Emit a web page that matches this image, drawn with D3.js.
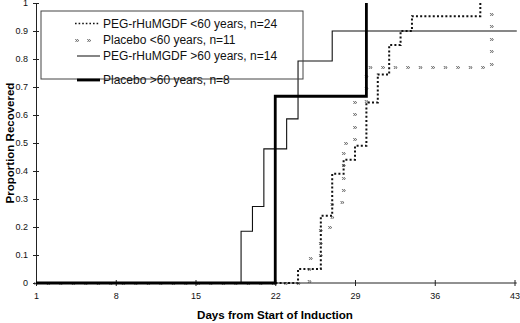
<!DOCTYPE html>
<html>
<head>
<meta charset="utf-8">
<script src="https://cdn.jsdelivr.net/npm/d3@7"></script>
<style>
  body { margin: 0; background: #fff; }
  svg { display: block; font-family: "Liberation Sans", Arial, sans-serif; }
  .axis path, .axis line { stroke: #222; }
  .axis text { font-size: 9px; fill: #111; }
  .glyphs { filter: grayscale(1); }
</style>
</head>
<body>
<div id="chart"></div>
<script>
// Tick values
const xTicks = [1, 8, 15, 22, 29, 36, 43]
const yTicks = [0, 0.1, 0.2, 0.3, 0.4, 0.5, 0.6, 0.7, 0.8, 0.9, 1]

// Step points: [day, proportion recovered]
const pegUnder60 = [[1, 0], [24, 0.05], [26, 0.24], [27, 0.39], [28, 0.44], [29, 0.49], [30, 0.645], [31, 0.745], [32, 0.85], [33, 0.9], [34, 0.953], [40, 1.0]]
const placeboUnder60 = [[1, 0], [25, 0.09], [26, 0.2], [27, 0.29], [28, 0.5], [29, 0.65], [30, 0.77], [41, 1.0]]
const pegOver60 = [[1, 0], [19, 0.185], [20, 0.273], [21, 0.479], [23, 0.586], [24, 0.793], [27, 0.9], [43.2, 0.9]]
const placeboOver60 = [[1, 0], [22, 0.667], [30, 1.0]]

const legendLabels = [
  'PEG-rHuMGDF <60 years, n=24',
  'Placebo <60 years, n=11',
  'PEG-rHuMGDF >60 years, n=14',
  'Placebo >60 years, n=8'
]

const width = 520
const height = 323
const margin = { top: 3, right: 5.5, bottom: 40, left: 36 }
const innerWidth = width - margin.left - margin.right
const innerHeight = height - margin.top - margin.bottom

const svg = d3.select('#chart')
  .append('svg')
  .attr('width', width)
  .attr('height', height)

const g = svg.append('g')
  .attr('transform', `translate(${margin.left}, ${margin.top})`)

const x = d3.scaleLinear().domain([1, 43]).range([0, innerWidth])
const y = d3.scaleLinear().domain([0, 1]).range([innerHeight, 0])

// Left axis - ticks cross the line
const yAxis = g.append('g')
  .attr('class', 'axis')
  .call(
    d3.axisLeft(y)
      .tickValues(yTicks)
      .tickSizeOuter(0)
      .tickSize(3)
      .tickPadding(5)
      .tickFormat(d => d === 0 || d === 1 ? d3.format('d')(d) : d3.format('.1f')(d))
  )
yAxis.selectAll('.tick line').attr('x2', 3).attr('x1', -3)

// Bottom axis
const xAxis = g.append('g')
  .attr('class', 'axis')
  .attr('transform', `translate(0, ${innerHeight})`)
  .call(
    d3.axisBottom(x)
      .tickValues(xTicks)
      .tickSizeOuter(0)
      .tickSize(3)
      .tickPadding(7)
  )
xAxis.selectAll('.tick line').attr('y1', -3).attr('y2', 3)
xAxis.select('.domain').attr('d', `M0,0H${x(43.2)}`)

// Axis titles
svg.append('text')
  .attr('transform', `translate(10, ${margin.top + innerHeight / 2}) rotate(-90)`)
  .attr('text-anchor', 'middle')
  .attr('dy', '0.35em')
  .style('font-size', '11.5px')
  .style('font-weight', 'bold')
  .text('Proportion Recovered')

svg.append('text')
  .attr('x', 275)
  .attr('y', 315)
  .attr('text-anchor', 'middle')
  .attr('dy', '0.35em')
  .style('font-size', '11.6px')
  .style('font-weight', 'bold')
  .text('Days from Start of Induction')

const stepLine = d3.line()
  .x(d => x(d[0]))
  .y(d => y(d[1]))
  .curve(d3.curveStepAfter)

// PEG <60 - dotted
g.append('path')
  .datum(pegUnder60)
  .attr('fill', 'none')
  .attr('stroke', '#111')
  .attr('stroke-width', 2)
  .attr('stroke-dasharray', '2,2.2')
  .attr('d', stepLine)

// Placebo <60 - small chevron glyphs along the step path
const placeboPath = g.append('path')
  .datum(placeboUnder60)
  .attr('fill', 'none')
  .attr('stroke', 'none')
  .attr('d', stepLine)

const node = placeboPath.node()
const total = node.getTotalLength()
const marks = d3.range(0, total, 12.5).map(l => node.getPointAtLength(l))
g.append('g')
  .attr('class', 'glyphs')
  .selectAll('text')
  .data(marks)
  .join('text')
  .attr('x', d => d.x)
  .attr('y', d => d.y)
  .attr('text-anchor', 'middle')
  .attr('dy', '0.35em')
  .style('font-size', '8px')
  .style('fill', '#444')
  .text('»')

// PEG >60 - thin solid
g.append('path')
  .datum(pegOver60)
  .attr('fill', 'none')
  .attr('stroke', '#111')
  .attr('stroke-width', 1.1)
  .attr('d', stepLine)

// Placebo >60 - thick solid
g.append('path')
  .datum(placeboOver60)
  .attr('fill', 'none')
  .attr('stroke', '#000')
  .attr('stroke-width', 2.8)
  .attr('d', stepLine)

// Legend
const legend = svg.append('g')
legend.append('rect')
  .attr('x', 41)
  .attr('y', 11)
  .attr('width', 262)
  .attr('height', 68)
  .attr('fill', 'none')
  .attr('stroke', '#444')
  .attr('stroke-width', 1)

const legendY = [23.5, 40, 56, 80]
const legendItems = legend.selectAll('g.item')
  .data(legendLabels)
  .join('g')
  .attr('class', 'item')
  .attr('transform', (d, i) => `translate(0, ${legendY[i]})`)

legendItems.append('text')
  .attr('x', 103)
  .attr('dy', '0.35em')
  .style('font-size', '12px')
  .style('fill', '#111')
  .text(d => d)

// sample for each entry
legendItems.filter((d, i) => i === 0).append('line')
  .attr('x1', 75).attr('x2', 100)
  .attr('stroke', '#111').attr('stroke-width', 1.6)
  .attr('stroke-dasharray', '1.6,2')
legendItems.filter((d, i) => i === 1).append('g')
  .attr('class', 'glyphs')
  .selectAll('text')
  .data([77, 89])
  .join('text')
  .attr('x', d => d)
  .attr('dy', '0.35em')
  .attr('text-anchor', 'middle')
  .style('font-size', '8px')
  .style('fill', '#444')
  .text('»')
legendItems.filter((d, i) => i === 2).append('line')
  .attr('x1', 77).attr('x2', 100)
  .attr('stroke', '#222').attr('stroke-width', 1.1)
legendItems.filter((d, i) => i === 3).append('line')
  .attr('x1', 77).attr('x2', 100)
  .attr('stroke', '#000').attr('stroke-width', 2.8)
</script>
</body>
</html>
